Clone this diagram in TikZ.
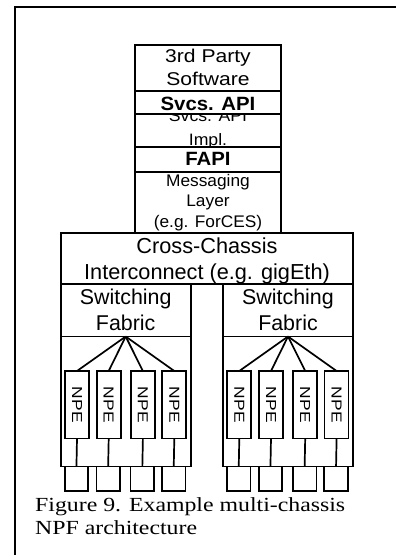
\documentclass[tikz,border=0pt]{standalone}
\usepackage{fontspec}
\usepackage{graphicx}
\setmainfont{Liberation Serif}
\newfontfamily\arial{Liberation Sans}
\usetikzlibrary{fit}

% font size helper: size in pt, baselineskip equal to size
\newcommand{\fsz}[1]{\fontsize{#1pt}{#1pt}\selectfont}
% horizontally widened text
\newcommand{\wide}[2]{\scalebox{#1}[1]{#2}}

\begin{document}
\begin{tikzpicture}[x=1pt,y=-1pt,
  box/.style={draw=black, line width=1.7pt, fill=white, inner sep=0pt, outer sep=0pt},
  lbl/.style={anchor=base, inner sep=0pt, outer sep=0pt, font=\arial},
  link/.style={draw=black, line width=1.7pt},
  frameline/.style={draw=black, line width=2.2pt}
]
\useasboundingbox (0,0) rectangle (396,555);

% page frame (top and left rules)
\coordinate (frameTR) at (396,7);
\coordinate (frameTL) at (15,7);
\coordinate (frameBL) at (15,555);
\draw[frameline] (frameTR) -- (frameTL) -- (frameBL);

% ---- software stack ----
\node[box, fit={(134.7,45) (281,233)}] (stack) {};
\draw[link] (stack.west |- 0,91) -- (stack.east |- 0,91);

\node[lbl] (t3rd)  at (208,62) {\fsz{18.5}\wide{1.14}{3rd Party}};
\node[lbl] (tsoft) at (208,85.5) {\fsz{18.5}\wide{1.14}{Software}};
% implementation layer text, partly hidden by the API boxes
\begin{scope}
  \clip (134.7,114.3) rectangle (281,147);
  \node[lbl] (timpA) at (208,121.7){\fsz{16.5}\wide{1.07}{Svcs. API}};
  \node[lbl] (timpB) at (208,145)  {\fsz{16.5}\wide{1.07}{Impl.}};
\end{scope}
\node[lbl] (tmsgA) at (208,186)  {\fsz{16.8}\wide{1.03}{Messaging}};
\node[lbl] (tmsgB) at (208,206.7){\fsz{16.8}\wide{1.03}{Layer}};
\node[lbl] (tmsgC) at (208,227.4){\fsz{16.8}\wide{1.03}{(e.g. ForCES)}};

% API boxes, drawn over the layer text
\node[box, fit={(134.7,91) (281,114.3)}] (svcs) {};
\node[lbl] (tsvcs) at (208,110) {\bfseries\fsz{19.2}\wide{1.06}{Svcs. API}};
\node[box, fit={(134.7,147) (281,172.3)}] (fapi) {};
\node[lbl] (tfapi) at (208,165) {\bfseries\fsz{19.2}\wide{1.06}{FAPI}};

% ---- interconnect ----
\node[box, fit={(60.7,233) (353,284.3)}] (xc) {};
\node[lbl] (txcA) at (207,253.3) {\fsz{21.7}Cross-Chassis};
\node[lbl] (txcB) at (207,279.3) {\fsz{21.7}Interconnect (e.g. gigEth)};

% ---- two chassis ----
\foreach \side/\ox in {l/60.7, r/223} {
  \node[box, fit={(\ox,284.3) ({\ox+130},466.5)}] (ch\side) {};
  \coordinate (div\side W) at (\ox,336.5);
  \coordinate (div\side E) at ({\ox+130},336.5);
  \draw[link] (div\side W) -- (div\side E);
  \coordinate (apex\side) at ({\ox+65},336.5);
  \node[lbl] (sw\side A) at ({\ox+65},304.5) {\fsz{21.4}Switching};
  \node[lbl] (sw\side B) at ({\ox+65},330)   {\fsz{21.4}Fabric};
  \foreach \i/\dx in {1/4.3, 2/36, 3/70.2, 4/101.6} {
    \node[box, anchor=north west, minimum width=24pt, minimum height=67.5pt]
      (npe\side\i) at ({\ox+\dx},371) {};
    \node[rotate=-90, inner sep=0pt, font=\arial] (npet\side\i) at (npe\side\i.center)
      {\fsz{14.5}\wide{1.2}{NPE}};
    \node[box, anchor=north west, minimum width=23.5pt, minimum height=24.2pt]
      (port\side\i) at ({\ox+\dx-0.3},466.5) {};
    \draw[link] (apex\side) -- (npe\side\i.north);
    \draw[link] (npe\side\i.south) -- (port\side\i.north);
  }
}

% ---- caption ----
\node[anchor=base west, inner sep=0pt] (capA) at (35,511.7)
  {\fsz{20}\wide{1.19}{Figure 9. Example multi-chassis}};
\node[anchor=base west, inner sep=0pt] (capB) at (35,534)
  {\fsz{20}\wide{1.19}{NPF architecture}};
\end{tikzpicture}
\end{document}
